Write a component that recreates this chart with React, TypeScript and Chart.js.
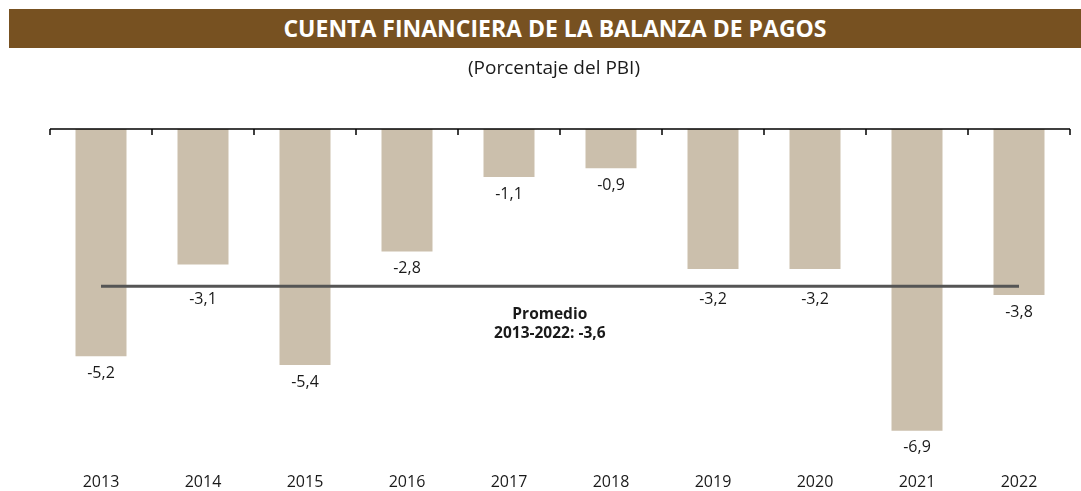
import React, { useEffect, useRef } from "react";
import { Chart, registerables } from "chart.js";

Chart.register(...registerables);

const years = ["2013", "2014", "2015", "2016", "2017", "2018", "2019", "2020", "2021", "2022"];
const values = [-5.2, -3.1, -5.4, -2.8, -1.1, -0.9, -3.2, -3.2, -6.9, -3.8];
const averageValue = -3.6;
const averageLabel = ["Promedio", "2013-2022: -3,6"];
const titleText = "CUENTA FINANCIERA DE LA BALANZA DE PAGOS";
const subtitleText = "(Porcentaje del PBI)";

const FONT = "'Open Sans', 'Noto Sans', sans-serif";
const fmt = (v: number) => v.toFixed(1).replace(".", ",");

const overlayPlugin = {
  id: "overlay",
  afterDatasetsDraw(chart: any) {
    const ctx = chart.ctx;
    const xs = chart.scales.x;
    const ys = chart.scales.y;
    const ca = chart.chartArea;
    const y0 = ys.getPixelForValue(0);
    ctx.save();
    ctx.strokeStyle = "#000";
    ctx.lineWidth = 1.5;
    ctx.beginPath();
    ctx.moveTo(ca.left, y0);
    ctx.lineTo(ca.right, y0);
    ctx.stroke();
    for (let i = 0; i <= years.length; i++) {
      const x = Math.round(xs.getPixelForValue(i - 0.5));
      ctx.beginPath();
      ctx.moveTo(x, y0);
      ctx.lineTo(x, y0 + 6);
      ctx.stroke();
    }
    const lineY = ys.getPixelForValue(averageValue);
    ctx.fillStyle = "#1a1a1a";
    ctx.font = `16px ${FONT}`;
    ctx.textAlign = "center";
    ctx.textBaseline = "middle";
    const meta = chart.getDatasetMeta(0);
    meta.data.forEach((bar: any, i: number) => {
      let y = bar.y + 17;
      if (Math.abs(y - lineY) < 12) y = lineY + 13;
      ctx.fillText(fmt(values[i]), bar.x, y);
    });
    ctx.font = `bold 15.5px ${FONT}`;
    const ax = xs.getPixelForValue(4.4);
    ctx.fillText(averageLabel[0], ax, lineY + 28);
    ctx.fillText(averageLabel[1], ax, lineY + 47);
    ctx.restore();
  },
};

export default function App() {
  const canvasRef = useRef<HTMLCanvasElement | null>(null);

  useEffect(() => {
    document.body.style.margin = "0";
    const canvas = canvasRef.current;
    if (!canvas) return;
    const chart = new Chart(canvas, {
      type: "bar",
      data: {
        labels: years,
        datasets: [
          {
            type: "bar",
            data: values,
            backgroundColor: "#cbbfac",
            barPercentage: 0.5,
            categoryPercentage: 1,
            order: 2,
          },
          {
            type: "line",
            data: years.map(() => averageValue),
            borderColor: "#555555",
            borderWidth: 3,
            pointRadius: 0,
            fill: false,
            order: 1,
          } as any,
        ],
      },
      options: {
        responsive: false,
        animation: false,
        maintainAspectRatio: false,
        layout: { padding: { left: 50, right: 11, top: 129, bottom: 0 } },
        plugins: {
          legend: { display: false },
          tooltip: { enabled: false },
          title: { display: false },
        },
        scales: {
          x: {
            grid: { display: false, drawTicks: false },
            border: { display: false },
            ticks: {
              color: "#1a1a1a",
              font: { family: FONT, size: 16 },
              padding: 38,
            },
            afterFit: (s: any) => {
              s.height = 56;
            },
          },
          y: {
            display: false,
            min: -7,
            max: 0,
          },
        },
      },
      plugins: [overlayPlugin],
    });
    return () => chart.destroy();
  }, []);

  return (
    <div style={{ position: "relative", width: 1081, height: 491, overflow: "hidden", background: "#fff" }}>
      <canvas ref={canvasRef} width={1081} height={491} style={{ position: "absolute", left: 0, top: 0, width: 1081, height: 491 }} />
      <div
        style={{
          position: "absolute",
          left: 9,
          top: 9,
          width: 1072,
          height: 39,
          background: "#775121",
        }}
      />
      <div
        style={{
          position: "absolute",
          left: 555,
          top: 9,
          height: 39,
          lineHeight: "39px",
          transform: "translateX(-50%)",
          whiteSpace: "nowrap",
          color: "#fff",
          fontFamily: FONT,
          fontWeight: 700,
          fontSize: 23,
        }}
      >
        {titleText}
      </div>
      <div
        style={{
          position: "absolute",
          left: 554,
          top: 53,
          lineHeight: "28px",
          transform: "translateX(-50%)",
          whiteSpace: "nowrap",
          color: "#1a1a1a",
          fontFamily: FONT,
          fontSize: 19,
        }}
      >
        {subtitleText}
      </div>
    </div>
  );
}
